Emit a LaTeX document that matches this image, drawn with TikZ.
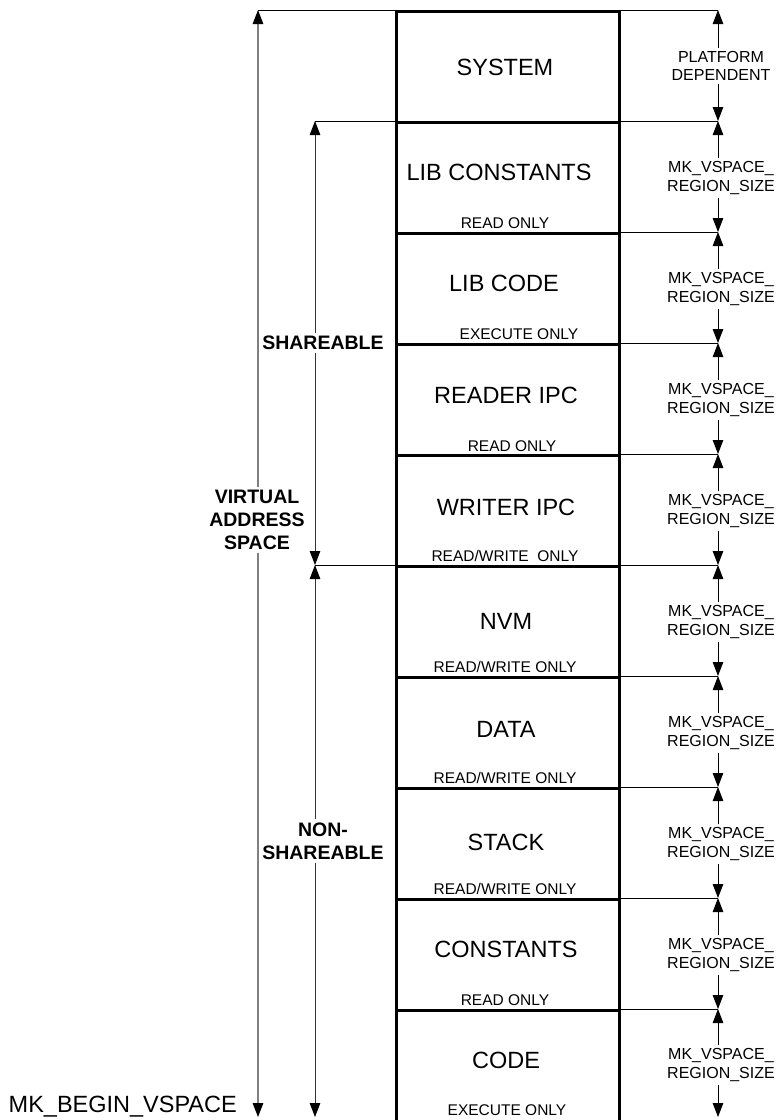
\documentclass[tikz,border=0pt]{standalone}
\usepackage{fontspec}
\setmainfont{Liberation Sans}
\usetikzlibrary{arrows.meta}
\begin{document}
\begin{tikzpicture}[x=1pt,y=-1pt,
  region/.style={draw,line width=2.6pt,minimum width=223pt,minimum height=111pt,inner sep=0pt,anchor=north west},
  ext/.style={line width=0.9pt},
  dim/.style={line width=0.9pt,-{Triangle[width=10.5pt,length=14pt]}},
  vline/.style={line width=1.3pt,black!50,-{Triangle[width=10.5pt,length=14pt,color=black]}},
  sline/.style={line width=1pt,black!80,-{Triangle[width=10.5pt,length=14pt,color=black]}},
  rname/.style={font=\fontsize{23.5}{28}\selectfont,inner sep=0pt},
  small/.style={font=\fontsize{15.5}{18}\selectfont,inner sep=0pt},
  rlab/.style={font=\fontsize{16}{18.5}\selectfont,align=center,inner sep=3pt},
  big/.style={font=\bfseries\fontsize{19.5}{23}\selectfont,align=center,inner sep=3pt}
]
\useasboundingbox (0,0) rectangle (779,1120);

% regions
\node[region] (R1) at (395,10) {};
\node[region] (R2) at (395,121) {};
\node[region] (R3) at (395,232) {};
\node[region] (R4) at (395,343) {};
\node[region] (R5) at (395,454) {};
\node[region] (R6) at (395,565) {};
\node[region] (R7) at (395,676) {};
\node[region] (R8) at (395,787) {};
\node[region] (R9) at (395,898) {};
\node[region,minimum height=113pt] (R10) at (395,1009) {};

% region names
\node[rname] (n1) at (505,67) {SYSTEM};
\node[rname] (n2) at (499,172) {LIB CONSTANTS};
\node[rname] (n3) at (504,283) {LIB CODE};
\node[rname] (n4) at (506,395) {READER IPC};
\node[rname] (n5) at (506,507) {WRITER IPC};
\node[rname] (n6) at (506,621) {NVM};
\node[rname] (n7) at (506,729) {DATA};
\node[rname] (n8) at (506,842) {STACK};
\node[rname] (n9) at (506,949) {CONSTANTS};
\node[rname] (n10) at (506,1060) {CODE};

% access labels
\node[small] (a2) at (505,223) {READ ONLY};
\node[small] (a3) at (519,334) {EXECUTE ONLY};
\node[small] (a4) at (512,446) {READ ONLY};
\node[small] (a5) at (505,556) {READ/WRITE\ \ ONLY};
\node[small] (a6) at (505,667) {READ/WRITE ONLY};
\node[small] (a7) at (505,778) {READ/WRITE ONLY};
\node[small] (a8) at (505,889) {READ/WRITE ONLY};
\node[small] (a9) at (505,1000) {READ ONLY};
\node[small] (a10) at (507,1110) {EXECUTE ONLY};

% right dimension coordinates
\coordinate (b0) at (718,10);
\coordinate (b1) at (718,121);
\coordinate (b2) at (718,232);
\coordinate (b3) at (718,343);
\coordinate (b4) at (718,454);
\coordinate (b5) at (718,565);
\coordinate (b6) at (718,676);
\coordinate (b7) at (718,787);
\coordinate (b8) at (718,898);
\coordinate (b9) at (718,1009);
\coordinate (b10) at (718,1117);

% extension lines right
\draw[ext] (R1.north east) -- (b0);
\draw[ext] (R2.north east) -- (b1);
\draw[ext] (R3.north east) -- (b2);
\draw[ext] (R4.north east) -- (b3);
\draw[ext] (R5.north east) -- (b4);
\draw[ext] (R6.north east) -- (b5);
\draw[ext] (R7.north east) -- (b6);
\draw[ext] (R8.north east) -- (b7);
\draw[ext] (R9.north east) -- (b8);
\draw[ext] (R10.north east) -- (b9);

% right labels and dimension arrows
\node[rlab] (r1) at (721,66) {PLATFORM\\DEPENDENT};
\foreach \i/\y in {2/178,3/289,4/400,5/511,6/622,7/733,8/844,9/955,10/1065}{
  \node[rlab] (r\i) at (721,\y) {MK\_VSPACE\_\\REGION\_SIZE};
}
\foreach \i [evaluate=\i as \j using int(\i-1)] in {1,...,10}{
  \draw[dim] (r\i.north -| b0) -- (b\j);
  \draw[dim] (r\i.south -| b0) -- (b\i);
}

% virtual address space
\coordinate (vt) at (258,10);
\coordinate (vb) at (258,1117);
\node[big] (vas) at (257,520) {VIRTUAL\\ADDRESS\\SPACE};
\draw[vline] (vas.north -| vt) -- (vt);
\draw[vline] (vas.south -| vt) -- (vb);
\draw[ext] (vt) -- (R1.north west);

% shareable
\coordinate (st) at (315,121);
\coordinate (sb) at (315,565);
\coordinate (nb) at (315,1117);
\node[big] (sh) at (323,343) {SHAREABLE};
\node[big] (nsh) at (323,841) {NON-\\SHAREABLE};
\draw[sline] (sh.north -| st) -- (st);
\draw[sline] (sh.south -| st) -- (sb);
\draw[sline] (nsh.north -| st) -- (sb);
\draw[sline] (nsh.south -| st) -- (nb);
\draw[ext] (st) -- (R2.north west);
\draw[ext] (sb) -- (R6.north west);

% begin label
\node[rname,anchor=east] (mkb) at (237,1107) {MK\_BEGIN\_VSPACE};
\end{tikzpicture}
\end{document}
